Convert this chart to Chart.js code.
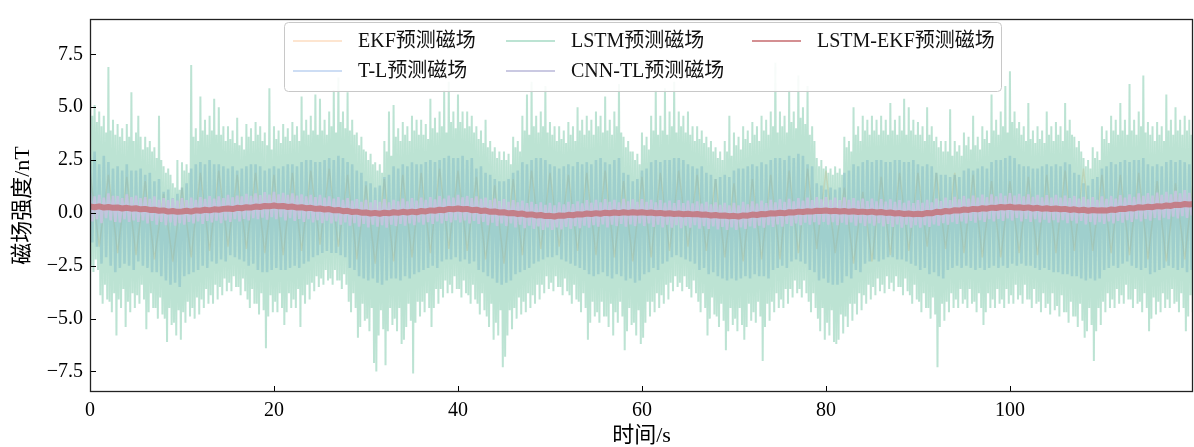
<!DOCTYPE html>
<html><head><meta charset="utf-8">
<script src="https://cdn.jsdelivr.net/npm/chart.js@4.4.1/dist/chart.umd.min.js"></script>
<style>html,body{margin:0;padding:0;background:#fff;}</style>
</head><body>
<canvas id="c" width="1194" height="447"></canvas>
<script>
// ---- data ----
const seriesNames = ['EKF预测磁场', 'T-L预测磁场', 'LSTM预测磁场', 'CNN-TL预测磁场', 'LSTM-EKF预测磁场'];
const xTicks = [0, 20, 40, 60, 80, 100];
const yTicks = [-7.5, -5.0, -2.5, 0.0, 2.5, 5.0, 7.5];
const xTitle = '时间/s';
const yTitle = '磁场强度/nT';

const lstmStep = 0.125; // s between samples
const lstmValues = [
6.6,-2.5,4.6,-2.8,5.1,-2.2,4.3,-2.7, 4.8,-3.9,4.1,-4.3,4.6,-3.4,3.8,-4.1, 6.9,-4.2,3.9,-4.7,4.4,-3.8,3.7,-5.8,
4.2,-4.1,3.6,-4.5,4.0,-3.6,3.4,-5.4, 4.2,-4.2,3.6,-4.7,5.7,-3.8,3.4,-4.5, 3.8,-3.9,4.6,-4.3,3.6,-3.4,3.0,-4.1,
3.6,-5.5,3.1,-4.7,3.4,-3.8,2.9,-4.5, 3.1,-4.5,2.6,-5.0,4.6,-4.0,2.5,-4.8, 2.2,-5.0,1.9,-6.1,2.1,-4.5,1.8,-5.3,
1.4,-5.2,1.2,-5.8,2.5,-4.6,1.1,-6.0, 2.4,-4.7,2.0,-5.2,2.3,-4.2,1.9,-4.9, 7.0,-4.5,3.6,-5.0,4.0,-4.0,3.4,-4.8,
5.5,-4.1,3.9,-4.5,4.4,-3.6,3.7,-4.3, 4.6,-3.9,3.9,-4.3,5.4,-3.4,3.7,-4.1, 5.0,-3.5,3.7,-3.9,4.1,-3.1,3.4,-3.7,
4.1,-3.3,3.5,-3.7,3.9,-3.0,3.3,-3.5, 4.5,-3.5,3.2,-3.9,3.6,-3.1,3.0,-3.7, 4.2,-4.1,3.6,-4.5,4.0,-3.6,3.4,-4.3,
4.3,-4.3,3.7,-4.8,4.1,-3.8,3.4,-4.6, 3.8,-6.4,3.2,-4.9,5.9,-3.9,3.0,-4.7, 4.1,-4.2,3.5,-4.7,3.9,-3.8,3.3,-4.5,
4.2,-5.3,3.6,-4.7,4.0,-3.8,3.4,-4.5, 4.3,-4.1,3.7,-4.5,4.1,-3.6,3.4,-5.4, 5.5,-3.9,3.9,-4.3,4.4,-3.4,3.7,-4.1,
4.6,-3.3,3.9,-3.7,5.6,-3.0,3.7,-3.5, 5.4,-3.1,3.9,-3.4,4.4,-2.7,3.7,-3.2, 4.8,-3.1,4.1,-3.4,5.8,-2.7,3.8,-3.2,
6.4,-3.2,4.3,-3.6,4.8,-2.9,4.0,-3.4, 5.7,-4.2,3.9,-4.7,4.4,-3.8,3.7,-4.5, 3.8,-5.9,3.2,-5.4,3.6,-4.3,3.0,-5.1,
2.9,-5.0,2.5,-5.6,2.8,-4.5,2.3,-7.1, 2.4,-7.5,2.0,-5.8,2.3,-4.6,1.9,-5.5, 3.4,-7.2,2.9,-5.6,4.8,-4.5,2.7,-5.3,
5.1,-5.0,3.6,-5.6,4.0,-4.5,3.4,-6.2, 4.3,-6.0,3.7,-5.4,4.1,-4.3,3.4,-5.1, 4.6,-7.6,3.9,-5.2,4.4,-4.2,3.7,-4.9,
4.4,-4.2,3.7,-4.7,4.2,-3.8,3.5,-4.5, 5.4,-5.4,4.0,-4.5,4.5,-3.6,3.8,-4.3, 4.8,-3.6,4.1,-4.0,5.8,-3.2,3.8,-3.8,
6.2,-3.4,4.3,-3.8,4.8,-3.0,4.0,-3.6, 5.6,-3.6,4.3,-4.0,4.8,-3.2,4.0,-3.8, 4.8,-3.9,4.1,-4.3,4.6,-3.4,3.8,-4.1,
4.1,-4.3,3.5,-4.8,3.9,-3.8,3.3,-4.6, 4.4,-4.9,3.1,-5.4,3.4,-4.3,2.9,-6.0, 3.1,-5.2,2.6,-5.8,2.9,-4.6,2.5,-7.3,
2.9,-6.8,2.5,-5.8,2.8,-4.6,2.3,-5.5, 3.6,-4.5,3.1,-5.0,3.4,-4.0,2.9,-4.8, 4.6,-4.2,3.9,-4.7,5.6,-3.8,3.7,-4.5,
6.2,-3.9,4.1,-4.3,4.6,-3.4,3.8,-4.1, 4.8,-3.4,4.1,-3.8,6.0,-3.0,3.8,-3.6, 4.3,-3.3,3.7,-3.7,4.1,-3.0,3.4,-3.5,
4.1,-3.5,3.5,-3.9,3.9,-3.1,3.3,-3.7, 4.3,-3.9,3.7,-4.3,4.1,-3.4,3.4,-4.1, 5.0,-4.2,3.9,-4.7,4.4,-3.8,3.7,-4.5,
4.6,-6.0,3.9,-5.2,4.4,-4.2,3.7,-4.9, 4.8,-4.7,4.1,-5.2,4.6,-4.2,3.8,-4.9, 5.5,-4.9,3.9,-5.4,4.4,-4.3,3.7,-5.8,
4.8,-4.7,4.1,-5.2,6.1,-4.2,3.8,-4.9, 3.6,-6.5,3.1,-5.6,3.4,-4.5,2.9,-5.3, 2.9,-5.2,2.5,-5.8,2.8,-4.6,2.3,-6.2,
3.8,-5.9,3.2,-5.2,3.6,-4.2,3.0,-4.9, 4.6,-4.2,3.9,-4.7,5.8,-3.8,3.7,-4.5, 4.6,-3.9,3.9,-4.3,5.9,-3.4,3.7,-4.1,
4.8,-3.3,4.1,-3.7,6.2,-3.0,3.8,-3.5, 4.8,-3.3,4.1,-3.7,4.6,-3.0,3.8,-3.5, 4.8,-3.6,3.7,-4.0,4.1,-3.2,3.4,-3.8,
4.1,-4.2,3.5,-4.7,3.9,-3.8,3.3,-4.5, 3.6,-5.8,3.1,-5.0,3.4,-4.0,2.9,-4.8, 3.1,-4.9,2.6,-5.4,2.9,-4.3,2.5,-5.1,
3.4,-6.5,2.9,-5.6,4.6,-4.5,2.7,-5.3, 3.8,-5.0,3.2,-5.6,3.6,-4.5,3.0,-5.3, 4.1,-6.0,3.5,-5.4,3.9,-4.3,3.3,-5.1,
4.3,-4.7,3.7,-5.2,4.1,-4.2,3.4,-4.9, 4.6,-7.0,3.9,-5.4,4.4,-4.3,3.7,-5.1, 4.8,-4.2,4.1,-4.7,7.1,-3.8,3.8,-4.5,
4.8,-4.1,4.1,-4.5,4.6,-3.6,3.8,-4.3, 5.8,-3.6,4.3,-4.0,4.8,-3.2,4.0,-3.8, 6.5,-3.6,4.5,-4.0,5.0,-3.2,4.2,-3.8,
6.0,-4.2,3.7,-4.7,4.1,-3.8,3.4,-4.5, 2.6,-5.0,2.2,-5.6,2.5,-4.5,2.1,-6.0, 2.2,-5.2,1.9,-5.8,2.1,-4.6,1.8,-6.1,
2.2,-6.2,1.9,-6.0,2.1,-4.8,1.8,-5.7, 3.6,-4.9,3.1,-5.4,3.4,-4.3,2.9,-5.1, 5.0,-4.3,3.7,-4.8,4.1,-3.8,3.4,-4.6,
4.6,-3.9,3.9,-4.3,4.4,-3.4,3.7,-4.1, 4.6,-3.5,3.9,-3.9,4.4,-3.1,3.7,-3.7, 4.6,-3.4,3.9,-3.8,4.4,-3.0,3.7,-3.6,
5.2,-3.3,3.9,-3.7,4.4,-3.0,3.7,-3.5, 4.6,-3.5,3.9,-3.9,5.4,-3.1,3.7,-3.7, 5.0,-3.9,3.9,-4.3,4.4,-3.4,3.7,-4.1,
4.3,-4.2,3.7,-4.7,4.1,-3.8,3.4,-4.5, 5.0,-4.5,3.7,-5.0,4.1,-4.0,3.4,-4.8, 3.6,-7.3,3.1,-5.4,3.4,-4.3,2.9,-5.1,
3.4,-4.2,2.9,-4.7,4.9,-3.8,2.7,-4.5, 3.4,-4.1,2.9,-4.5,3.2,-3.6,2.7,-4.3, 3.8,-4.1,3.2,-4.5,3.6,-3.6,3.0,-4.3,
4.6,-4.2,3.2,-4.7,3.6,-3.8,3.0,-4.5, 4.1,-5.3,3.5,-4.7,3.9,-3.8,3.3,-4.5, 5.6,-4.1,3.9,-4.5,4.4,-3.6,3.7,-4.3,
4.8,-4.1,4.1,-4.5,6.0,-3.6,3.8,-4.3, 6.7,-3.9,4.3,-4.3,4.8,-3.4,4.0,-4.1, 4.3,-3.9,3.7,-4.3,4.1,-3.4,3.4,-4.1,
5.2,-4.1,3.5,-4.5,3.9,-3.6,3.3,-4.3, 4.1,-4.2,3.5,-4.7,3.9,-3.8,3.3,-4.5, 4.8,-4.3,3.7,-4.8,4.1,-3.8,3.4,-4.6,
4.3,-4.4,3.7,-4.9,4.1,-3.9,3.4,-4.7, 5.2,-4.7,3.9,-5.2,4.4,-4.2,3.7,-4.9, 3.6,-4.9,3.1,-5.4,3.4,-4.3,2.9,-5.1,
2.6,-5.9,2.2,-5.6,2.5,-4.5,2.1,-5.3, 3.1,-7.0,2.6,-5.6,2.9,-4.5,2.5,-5.3, 4.1,-4.2,3.5,-4.7,3.9,-3.8,3.3,-4.5,
4.6,-4.1,3.9,-4.5,4.4,-3.6,3.7,-4.3, 5.2,-3.9,3.9,-4.3,4.4,-3.4,3.7,-4.1, 6.1,-4.1,3.9,-4.5,4.4,-3.6,3.7,-4.3,
4.8,-4.2,4.1,-4.7,6.5,-3.8,3.8,-4.5, 4.3,-5.6,3.7,-5.0,4.1,-4.0,3.4,-4.8, 4.3,-4.2,3.7,-4.7,4.1,-3.8,3.4,-4.5,
5.6,-4.1,3.9,-4.5,4.4,-3.6,3.7,-4.3, 5.0,-4.2,3.9,-4.7,4.4,-3.8,3.7,-4.5, 4.6,-5.6,3.9,-4.9,4.4,-3.9,3.7,-4.7,
4.2
];

const tlStep = 0.25;
const tlValues = [
2.6,-1.4,2.9,-1.6, 2.3,-2.4,2.7,-2.1, 2.4,-2.5,2.1,-2.8, 2.2,-2.6,2.0,-2.4, 2.3,-2.5,2.0,-2.7,
2.0,-2.3,2.1,-2.5, 1.8,-2.6,1.9,-2.8, 1.5,-2.8,1.6,-3.0, 1.0,-3.2,1.1,-3.4, 0.7,-3.3,0.9,-3.5,
1.2,-3.0,1.4,-2.9, 2.1,-2.8,2.3,-2.7, 2.4,-2.5,2.3,-2.6, 2.5,-2.3,2.3,-2.4, 2.3,-2.2,2.2,-2.3,
2.1,-2.0,2.2,-2.1, 2.0,-2.2,2.1,-2.3, 2.2,-2.5,2.3,-2.4, 2.3,-2.7,2.2,-2.8, 2.0,-2.8,2.1,-2.7,
2.2,-2.6,2.1,-2.7, 2.2,-2.7,2.3,-2.6, 2.3,-2.5,2.2,-2.6, 2.4,-2.4,2.5,-2.3, 2.5,-2.1,2.4,-2.0,
2.4,-1.9,2.5,-1.8, 2.6,-1.9,2.5,-1.9, 2.7,-2.0,2.6,-2.1, 2.4,-2.6,2.3,-2.7, 2.0,-3.0,1.9,-3.1,
1.5,-3.2,1.4,-3.1, 1.2,-3.3,1.3,-3.4, 1.7,-3.2,1.8,-3.1, 2.2,-3.1,2.1,-3.2, 2.3,-3.0,2.2,-3.1,
2.4,-2.9,2.3,-2.8, 2.3,-2.7,2.4,-2.6, 2.5,-2.5,2.4,-2.6, 2.5,-2.3,2.6,-2.2, 2.7,-2.2,2.6,-2.1,
2.6,-2.3,2.7,-2.2, 2.5,-2.4,2.6,-2.3, 2.1,-2.7,2.2,-2.8, 1.9,-3.0,1.8,-3.1, 1.6,-3.3,1.5,-3.4,
1.5,-3.3,1.6,-3.2, 1.9,-2.9,2.0,-2.8, 2.4,-2.7,2.3,-2.6, 2.5,-2.4,2.6,-2.3, 2.6,-2.2,2.5,-2.1,
2.3,-2.1,2.2,-2.0, 2.1,-2.2,2.2,-2.3, 2.3,-2.4,2.2,-2.5, 2.4,-2.6,2.3,-2.7, 2.4,-2.9,2.3,-3.0,
2.5,-2.9,2.6,-2.8, 2.4,-3.0,2.3,-3.1, 2.5,-2.9,2.6,-3.0, 1.9,-3.2,1.8,-3.1, 1.5,-3.3,1.6,-3.2,
2.0,-2.9,2.1,-2.8, 2.4,-2.6,2.5,-2.7, 2.4,-2.4,2.5,-2.3, 2.5,-2.1,2.6,-2.0, 2.6,-2.1,2.5,-2.2,
2.3,-2.3,2.2,-2.4, 2.1,-2.7,2.2,-2.6, 1.9,-2.9,1.8,-2.8, 1.6,-3.0,1.7,-3.1, 1.8,-3.2,1.7,-3.1,
2.0,-3.2,2.1,-3.1, 2.1,-3.0,2.2,-3.1, 2.3,-2.9,2.2,-3.0, 2.4,-3.0,2.3,-3.1, 2.5,-2.7,2.6,-2.6,
2.6,-2.5,2.5,-2.6, 2.7,-2.3,2.6,-2.2, 2.8,-2.3,2.7,-2.4, 2.3,-2.7,2.2,-2.8, 1.4,-3.2,1.3,-3.1,
1.1,-3.3,1.2,-3.4, 1.1,-3.4,1.2,-3.3, 1.9,-3.0,2.0,-3.1, 2.3,-2.7,2.2,-2.8, 2.4,-2.4,2.5,-2.3,
2.4,-2.2,2.5,-2.3, 2.5,-2.2,2.4,-2.1, 2.4,-2.1,2.5,-2.2, 2.5,-2.2,2.4,-2.3, 2.4,-2.4,2.5,-2.5,
2.3,-2.7,2.2,-2.6, 2.3,-2.9,2.2,-2.8, 1.9,-3.0,1.8,-3.1, 1.8,-2.7,1.7,-2.6, 1.8,-2.5,1.7,-2.6,
2.0,-2.5,2.1,-2.6, 2.0,-2.7,2.1,-2.6, 2.2,-2.7,2.1,-2.6, 2.4,-2.5,2.5,-2.6, 2.5,-2.5,2.6,-2.6,
2.7,-2.4,2.6,-2.5, 2.3,-2.4,2.2,-2.5, 2.2,-2.5,2.1,-2.6, 2.1,-2.7,2.2,-2.6, 2.3,-2.7,2.2,-2.8,
2.3,-2.8,2.2,-2.9, 2.4,-2.9,2.3,-3.0, 1.9,-3.0,1.8,-3.1, 1.4,-3.2,1.3,-3.1, 1.6,-3.2,1.7,-3.1,
2.1,-2.7,2.2,-2.6, 2.4,-2.5,2.3,-2.6, 2.4,-2.4,2.5,-2.3, 2.4,-2.5,2.5,-2.6, 2.5,-2.7,2.6,-2.6,
2.3,-2.9,2.2,-2.8, 2.3,-2.7,2.2,-2.6, 2.4,-2.5,2.5,-2.6, 2.4,-2.7,2.5,-2.6, 2.4,-2.8,2.3,-2.7,
2.3
];

const ekfStep = 1;
const ekfValues = [
2.0,-1.6,1.8,-1.9,1.7,-2.0,1.5,-2.2,0.9,-2.3,1.2,-2.1,1.9,-1.8,2.0,-1.6,1.8,-1.7,1.9,-1.9,
1.8,-2.0,1.9,-1.8,2.0,-1.5,2.1,-1.6,1.8,-2.2,1.3,-2.4,1.6,-2.3,1.8,-2.1,1.9,-1.9,2.1,-1.7,
2.0,-1.8,1.7,-2.2,1.3,-2.4,1.6,-2.0,2.0,-1.7,1.9,-1.6,1.8,-1.8,1.9,-2.0,2.0,-2.1,1.5,-2.3,
1.7,-2.1,1.9,-1.8,2.0,-1.6,1.8,-1.8,1.6,-2.1,1.4,-2.3,1.6,-2.2,1.8,-2.2,2.0,-1.9,2.1,-1.7,
2.0,-1.9,1.2,-2.4,1.0,-2.3,1.7,-2.0,1.9,-1.8,1.9,-1.6,1.9,-1.7,1.9,-1.9,1.8,-2.1,1.5,-2.1,
1.5,-1.9,1.7,-2.0,1.8,-1.9,2.0,-1.8,2.1,-1.8,1.8,-1.9,1.8,-2.0,1.9,-2.2,1.5,-2.3,1.4,-2.2,
1.8,-2.0,1.9,-1.8,2.0,-1.9,1.9,-2.1,1.9,-2.0,1.9,-2.1,1.8
];

const cnnStep = 0.25;
const cnnValues = [
0.95,-0.40,0.78,-0.30,0.85,-0.48,0.72,-0.25,0.92,-0.35,0.80,-0.42,0.80,-0.45,0.70,-0.30,0.88,-0.42,0.75,-0.35,
0.82,-0.42,0.70,-0.35,0.75,-0.50,0.66,-0.38,0.78,-0.55,0.62,-0.42,0.70,-0.58,0.60,-0.45,0.68,-0.60,0.58,-0.48,
0.70,-0.55,0.60,-0.42,0.72,-0.50,0.62,-0.40,0.75,-0.52,0.66,-0.38,0.80,-0.45,0.68,-0.36,0.78,-0.48,0.70,-0.35,
0.85,-0.42,0.74,-0.30,0.82,-0.40,0.78,-0.28,0.90,-0.35,0.80,-0.25,0.92,-0.30,0.84,-0.22,0.98,-0.32,0.86,-0.20,
1.00,-0.30,0.88,-0.20,0.95,-0.35,0.85,-0.25,0.92,-0.38,0.82,-0.28,0.88,-0.42,0.78,-0.30,0.85,-0.45,0.75,-0.34,
0.85,-0.48,0.72,-0.36,0.78,-0.50,0.68,-0.40,0.75,-0.55,0.62,-0.45,0.70,-0.60,0.58,-0.48,0.65,-0.65,0.52,-0.52,
0.62,-0.68,0.50,-0.55,0.60,-0.65,0.52,-0.58,0.65,-0.70,0.50,-0.56,0.62,-0.62,0.54,-0.52,0.68,-0.60,0.55,-0.50,
0.70,-0.58,0.58,-0.45,0.72,-0.55,0.62,-0.44,0.75,-0.52,0.64,-0.40,0.80,-0.50,0.68,-0.38,0.82,-0.45,0.72,-0.34,
0.85,-0.45,0.74,-0.35,0.80,-0.50,0.70,-0.38,0.78,-0.52,0.66,-0.42,0.72,-0.58,0.60,-0.46,0.68,-0.62,0.56,-0.50,
0.65,-0.62,0.52,-0.50,0.60,-0.68,0.50,-0.56,0.58,-0.72,0.46,-0.60,0.52,-0.75,0.42,-0.64,0.50,-0.80,0.38,-0.68,
0.48,-0.80,0.36,-0.68,0.50,-0.78,0.40,-0.66,0.52,-0.75,0.42,-0.62,0.55,-0.72,0.45,-0.60,0.60,-0.70,0.48,-0.58,
0.62,-0.65,0.50,-0.54,0.65,-0.68,0.52,-0.55,0.62,-0.62,0.50,-0.52,0.66,-0.65,0.54,-0.54,0.64,-0.62,0.52,-0.50,
0.65,-0.62,0.52,-0.50,0.62,-0.66,0.50,-0.55,0.60,-0.68,0.48,-0.56,0.58,-0.70,0.46,-0.58,0.60,-0.72,0.46,-0.60,
0.58,-0.70,0.45,-0.58,0.55,-0.74,0.44,-0.62,0.52,-0.76,0.40,-0.64,0.50,-0.78,0.38,-0.66,0.48,-0.80,0.36,-0.68,
0.48,-0.80,0.36,-0.68,0.52,-0.76,0.40,-0.64,0.55,-0.72,0.44,-0.60,0.58,-0.70,0.46,-0.58,0.62,-0.66,0.50,-0.54,
0.64,-0.65,0.52,-0.52,0.66,-0.62,0.55,-0.50,0.70,-0.58,0.58,-0.46,0.72,-0.56,0.60,-0.44,0.75,-0.55,0.64,-0.42,
0.75,-0.55,0.62,-0.44,0.72,-0.58,0.60,-0.46,0.74,-0.56,0.62,-0.45,0.70,-0.60,0.58,-0.48,0.68,-0.62,0.56,-0.50,
0.68,-0.60,0.55,-0.48,0.65,-0.64,0.53,-0.52,0.64,-0.66,0.52,-0.54,0.60,-0.70,0.48,-0.56,0.58,-0.70,0.46,-0.58,
0.60,-0.70,0.48,-0.58,0.62,-0.66,0.50,-0.54,0.68,-0.60,0.56,-0.48,0.72,-0.56,0.60,-0.44,0.76,-0.52,0.64,-0.40,
0.80,-0.50,0.68,-0.38,0.82,-0.46,0.72,-0.34,0.86,-0.42,0.74,-0.30,0.88,-0.40,0.78,-0.28,0.92,-0.38,0.80,-0.26,
0.94,-0.36,0.82,-0.24,0.90,-0.40,0.78,-0.28,0.88,-0.42,0.76,-0.30,0.85,-0.45,0.74,-0.32,0.84,-0.46,0.72,-0.34,
0.85,-0.45,0.72,-0.34,0.82,-0.48,0.70,-0.36,0.80,-0.50,0.68,-0.38,0.76,-0.54,0.64,-0.42,0.75,-0.55,0.62,-0.44,
0.78,-0.52,0.66,-0.40,0.80,-0.50,0.68,-0.38,0.84,-0.46,0.72,-0.34,0.88,-0.42,0.76,-0.30,0.92,-0.40,0.80,-0.28,
0.94,-0.36,0.82,-0.24,0.96,-0.34,0.85,-0.22,1.00,-0.30,0.88,-0.18,1.04,-0.26,0.92,-0.15,1.08,-0.24,0.95,-0.12,
1.05
];

const lstmEkfStep = 0.5;
const lstmEkfValues = [
0.30,0.27,0.31,0.25,0.28,0.24,0.26,0.21,0.24,0.20,
0.22,0.17,0.19,0.14,0.15,0.10,0.12,0.06,0.09,0.05,
0.07,0.10,0.06,0.12,0.10,0.15,0.12,0.17,0.15,0.19,
0.21,0.18,0.24,0.22,0.27,0.25,0.30,0.28,0.33,0.31,
0.35,0.31,0.33,0.28,0.30,0.25,0.27,0.22,0.24,0.19,
0.21,0.16,0.18,0.12,0.14,0.08,0.10,0.04,0.06,0.01,
0.02,-0.03,0.00,-0.04,0.01,-0.02,0.03,0.00,0.05,0.02,
0.06,0.03,0.09,0.07,0.12,0.10,0.15,0.13,0.19,0.17,
0.21,0.17,0.19,0.13,0.15,0.09,0.11,0.05,0.07,0.02,
0.03,-0.02,0.00,-0.05,-0.03,-0.09,-0.07,-0.12,-0.10,-0.15,
-0.14,-0.17,-0.12,-0.14,-0.09,-0.11,-0.06,-0.08,-0.03,-0.05,
-0.01,-0.04,0.01,-0.02,0.02,-0.01,0.03,0.00,0.03,0.01,
0.03,0.00,0.02,-0.02,0.00,-0.04,-0.02,-0.05,-0.03,-0.06,
-0.04,-0.07,-0.05,-0.09,-0.08,-0.12,-0.10,-0.14,-0.12,-0.16,
-0.14,-0.17,-0.12,-0.13,-0.08,-0.10,-0.05,-0.06,-0.02,-0.03,
0.01,-0.02,0.03,0.02,0.06,0.04,0.08,0.06,0.10,0.09,
0.11,0.08,0.10,0.07,0.09,0.05,0.08,0.04,0.06,0.03,
0.06,0.02,0.04,0.00,0.02,-0.03,-0.01,-0.05,-0.03,-0.06,
-0.04,-0.06,0.00,-0.02,0.05,0.03,0.09,0.07,0.13,0.11,
0.16,0.14,0.19,0.17,0.22,0.20,0.25,0.23,0.28,0.26,
0.29,0.25,0.27,0.23,0.26,0.21,0.24,0.19,0.22,0.18,
0.21,0.17,0.19,0.14,0.17,0.12,0.15,0.10,0.14,0.11,
0.13,0.11,0.16,0.14,0.20,0.18,0.23,0.21,0.27,0.25,
0.29,0.27,0.32,0.30,0.35,0.33,0.39,0.37,0.42,0.40,
0.43
];

// ---- build chart ----
const toPts = (vals, step) => vals.map((v, i) => ({x: i * step, y: v}));
const FONT = "'Liberation Serif', 'Noto Sans CJK SC', serif";

const colors = {
  ekf: 'rgba(250,170,100,0.3)',
  tl: 'rgba(100,150,220,0.32)',
  lstm: 'rgba(95,188,150,0.42)',
  cnn: 'rgba(198,196,224,0.92)',
  lstmEkf: 'rgba(196,100,104,0.72)'
};

const datasets = [
  {label: seriesNames[0], data: toPts(ekfValues, ekfStep), borderColor: colors.ekf, borderWidth: 1.5, order: 5},
  {label: seriesNames[1], data: toPts(tlValues, tlStep), borderColor: colors.tl, borderWidth: 2.6, order: 4},
  {label: seriesNames[2], data: toPts(lstmValues, lstmStep), borderColor: colors.lstm, borderWidth: 2, order: 3},
  {label: seriesNames[3], data: toPts(cnnValues, cnnStep), borderColor: colors.cnn, borderWidth: 2.5, order: 2},
  {label: seriesNames[4], data: toPts(lstmEkfValues, lstmEkfStep), borderColor: colors.lstmEkf, borderWidth: 6, order: 1}
].map(d => Object.assign(d, {pointRadius: 0, tension: 0, fill: false, borderJoinStyle: 'bevel'}));

// legend layout: matplotlib ncol=3 (column-wise fill)
const legendCols = [[0, 1], [2, 3], [4]];

const framePlugin = {
  id: 'frameLegend',
  afterDatasetsDraw(chart) {
    const ctx = chart.ctx, a = chart.chartArea;
    const xs = chart.scales.x, ys = chart.scales.y;
    ctx.save();
    ctx.strokeStyle = '#000'; ctx.lineWidth = 1;
    ys.ticks.forEach(t => { const y = Math.round(ys.getPixelForValue(t.value)) + 0.5; ctx.beginPath(); ctx.moveTo(a.left, y); ctx.lineTo(a.left + 6, y); ctx.stroke(); });
    xs.ticks.forEach(t => { const x = Math.round(xs.getPixelForValue(t.value)) + 0.5; ctx.beginPath(); ctx.moveTo(x, a.bottom); ctx.lineTo(x, a.bottom - 6); ctx.stroke(); });
    ctx.lineWidth = 1.3; ctx.strokeStyle = '#222';
    ctx.strokeRect(a.left + 0.5, a.top + 0.5, a.right - a.left - 1, a.bottom - a.top - 1);
    // legend box
    const bx = 284, by = 22, bw = 717, bh = 69;
    ctx.beginPath(); ctx.roundRect(bx + 0.5, by + 0.5, bw, bh, 4);
    ctx.fillStyle = 'rgba(255,255,255,0.88)'; ctx.fill();
    ctx.strokeStyle = 'rgba(200,200,200,1)'; ctx.lineWidth = 1; ctx.stroke();
    const colX = [293, 506, 752];
    const rowY = [41, 71];
    ctx.font = '20px ' + FONT; ctx.textBaseline = 'middle'; ctx.fillStyle = '#111';
    legendCols.forEach((col, ci) => col.forEach((di, ri) => {
      const ds = chart.data.datasets[di];
      const x = colX[ci], y = rowY[ri];
      ctx.strokeStyle = ds.borderColor; ctx.lineWidth = 2;
      ctx.beginPath(); ctx.moveTo(x, y); ctx.lineTo(x + 49, y); ctx.stroke();
      ctx.fillText(ds.label, x + 65, y + 1);
    }));
    ctx.restore();
  }
};

const tickFmt = v => (v < 0 ? '\u2212' : '') + Math.abs(v).toFixed(1);

new Chart(document.getElementById('c'), {
  type: 'line',
  data: {datasets},
  options: {
    responsive: false, animation: false, parsing: false, normalized: true,
    layout: {padding: {left: 0, right: 1, top: 11, bottom: 0}},
    plugins: {legend: {display: false}, tooltip: {enabled: false}},
    scales: {
      x: {
        type: 'linear', min: 0, max: 119.9,
        afterFit: s => { s.height = 55; },
        afterBuildTicks: s => { s.ticks = xTicks.map(v => ({value: v})); },
        grid: {display: false, drawTicks: false}, border: {display: false},
        ticks: {color: '#000', font: {family: FONT, size: 20}, padding: 7, maxRotation: 0, callback: v => String(v)},
        title: {display: true, text: xTitle, color: '#000', font: {family: FONT, size: 22, lineHeight: 1.0}, padding: {top: 0, bottom: 0}}
      },
      y: {
        type: 'linear', min: -8.47, max: 9.17,
        afterFit: s => { s.width = 90; },
        afterBuildTicks: s => { s.ticks = yTicks.map(v => ({value: v})); },
        grid: {display: false, drawTicks: false}, border: {display: false},
        ticks: {color: '#000', font: {family: FONT, size: 20}, padding: 7, callback: tickFmt},
        title: {display: true, text: yTitle, color: '#000', font: {family: FONT, size: 22, lineHeight: 1.0}, padding: {top: 12, bottom: 0}}
      }
    }
  },
  plugins: [framePlugin]
});
</script>
</body></html>
